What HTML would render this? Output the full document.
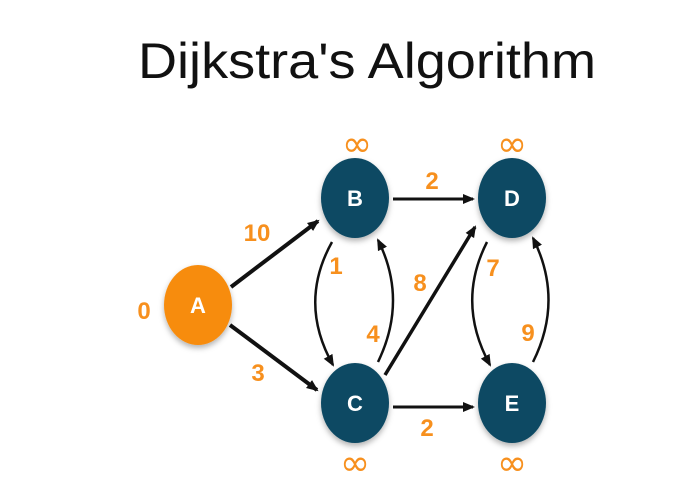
<!DOCTYPE html>
<html><head><style>
html,body{margin:0;padding:0;background:#fff;width:700px;height:500px;overflow:hidden}
</style></head><body>
<svg width="700" height="500" viewBox="0 0 700 500" xmlns="http://www.w3.org/2000/svg">
<defs>
<marker id="ah" markerWidth="14" markerHeight="14" refX="10" refY="6" orient="auto" markerUnits="userSpaceOnUse">
<path d="M0,1 L12,6 L0,11 Z" fill="#111"/></marker>
<filter id="sh" x="-30%" y="-30%" width="160%" height="160%"><feDropShadow dx="0" dy="3" stdDeviation="3" flood-color="#000" flood-opacity="0.3"/></filter>
</defs>
<text x="367" y="78" text-anchor="middle" font-family="Liberation Sans, sans-serif" font-size="50" fill="#111" textLength="458" lengthAdjust="spacingAndGlyphs">Dijkstra's Algorithm</text>
<g stroke="#111" fill="none" marker-end="url(#ah)">
<line x1="231" y1="287" x2="318" y2="221" stroke-width="4"/>
<line x1="230" y1="325" x2="317" y2="390" stroke-width="4"/>
<line x1="393" y1="199" x2="473" y2="199" stroke-width="3"/>
<line x1="393" y1="407" x2="473" y2="407" stroke-width="3"/>
<line x1="385" y1="375" x2="475" y2="227" stroke-width="3.5"/>
<path d="M332,242 Q298,303 333,365" stroke-width="2.5"/>
<path d="M378,362 Q408,300 378,240" stroke-width="2.5"/>
<path d="M487,242 Q456,303 490,365" stroke-width="2.5"/>
<path d="M533,362 Q564,300 533,238" stroke-width="2.5"/>
</g>
<g filter="url(#sh)">
<ellipse cx="198" cy="305" rx="34" ry="40" fill="#f78c0c"/>
<ellipse cx="355" cy="198" rx="34" ry="40" fill="#0d4a63"/>
<ellipse cx="512" cy="198" rx="34" ry="40" fill="#0d4a63"/>
<ellipse cx="355" cy="403" rx="34" ry="40" fill="#0d4a63"/>
<ellipse cx="512" cy="403" rx="34" ry="40" fill="#0d4a63"/>
</g>
<g font-family="Liberation Sans, sans-serif" font-weight="bold" font-size="22" fill="#fff" text-anchor="middle">
<text x="198" y="313">A</text><text x="355" y="206">B</text><text x="512" y="206">D</text>
<text x="355" y="411">C</text><text x="512" y="411">E</text>
</g>
<g font-family="Liberation Sans, sans-serif" font-weight="bold" font-size="24" fill="#f7901e" text-anchor="middle">
<text x="257" y="241">10</text><text x="258" y="381">3</text><text x="432" y="189">2</text>
<text x="427" y="436">2</text><text x="336" y="274">1</text><text x="373" y="342">4</text>
<text x="420" y="291">8</text><text x="493" y="276">7</text><text x="528" y="341">9</text>
<text x="144" y="319">0</text>
</g>
<g font-family="DejaVu Sans, sans-serif" font-size="36" fill="#f7901e" text-anchor="middle">
<text x="357" y="156">∞</text><text x="512" y="156">∞</text>
<text x="355" y="475">∞</text><text x="512" y="475">∞</text>
</g>
</svg>
</body></html>
